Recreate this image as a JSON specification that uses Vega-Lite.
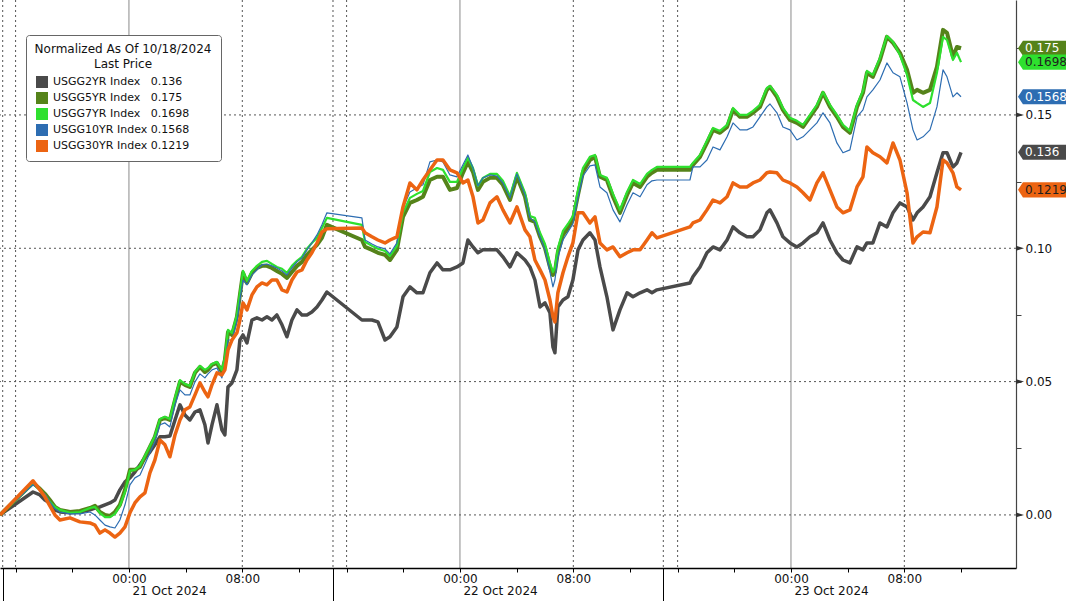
{
  "$schema": "https://vega.github.io/schema/vega-lite/v6.json",
  "width": 1016,
  "height": 568,
  "autosize": "none",
  "padding": {"left": 0, "top": 0, "right": 50, "bottom": 33},
  "background": "white",
  "config": {"font": "DejaVu Sans", "view": {"stroke": null}},
  "datasets": {
    "series": [
      {"t": -9.10, "y2": 0, "y5": 0, "y7": 0, "y10": 0, "y30": 0},
      {"t": -6.77, "y2": 0.0086, "y5": 0.012, "y7": 0.0116, "y10": 0.0113, "y30": 0.0128},
      {"t": -6.28, "y2": 0.0075, "y5": 0.0098, "y7": 0.0094, "y10": 0.0094, "y30": 0.0094},
      {"t": -5.93, "y2": 0.0056, "y5": 0.0079, "y7": 0.0075, "y10": 0.0079, "y30": 0.0068},
      {"t": -5.58, "y2": 0.0045, "y5": 0.0056, "y7": 0.0049, "y10": 0.0049, "y30": 0.0034},
      {"t": -5.22, "y2": 0.0019, "y5": 0.003, "y7": 0.003, "y10": 0.0023, "y30": 0},
      {"t": -4.87, "y2": 0.0011, "y5": 0.0019, "y7": 0.0019, "y10": 0.0011, "y30": -0.0019},
      {"t": -4.16, "y2": 0.0008, "y5": 0.0011, "y7": 0.0008, "y10": 0.0004, "y30": -0.0011},
      {"t": -3.46, "y2": 0.0011, "y5": 0.0015, "y7": 0.0011, "y10": 0.0004, "y30": -0.0026},
      {"t": -2.75, "y2": 0.0019, "y5": 0.0026, "y7": 0.0026, "y10": 0.0011, "y30": -0.003},
      {"t": -2.40, "y2": 0.0026, "y5": 0.0034, "y7": 0.003, "y10": 0, "y30": -0.0038},
      {"t": -2.05, "y2": 0.003, "y5": 0.0011, "y7": 0.0008, "y10": -0.0019, "y30": -0.0068},
      {"t": -1.69, "y2": 0.0038, "y5": 0, "y7": -0.0008, "y10": -0.0038, "y30": -0.0056},
      {"t": -1.34, "y2": 0.0045, "y5": -0.0004, "y7": -0.0008, "y10": -0.0045, "y30": -0.0068},
      {"t": -0.99, "y2": 0.0056, "y5": 0.0011, "y7": 0.0004, "y10": -0.0049, "y30": -0.0083},
      {"t": -0.64, "y2": 0.0094, "y5": 0.0038, "y7": 0.0034, "y10": -0.0019, "y30": -0.0068},
      {"t": -0.28, "y2": 0.0124, "y5": 0.0094, "y7": 0.0086, "y10": 0.0038, "y30": -0.0045},
      {"t": 0.07, "y2": 0.0139, "y5": 0.0169, "y7": 0.0165, "y10": 0.0113, "y30": 0.0008},
      {"t": 0.42, "y2": 0.0161, "y5": 0.0169, "y7": 0.0169, "y10": 0.0139, "y30": 0.0045},
      {"t": 0.78, "y2": 0.0188, "y5": 0.018, "y7": 0.0184, "y10": 0.015, "y30": 0.0068},
      {"t": 1.13, "y2": 0.0214, "y5": 0.0218, "y7": 0.0221, "y10": 0.0191, "y30": 0.0083},
      {"t": 1.48, "y2": 0.0236, "y5": 0.0255, "y7": 0.0259, "y10": 0.0233, "y30": 0.0158},
      {"t": 1.83, "y2": 0.0263, "y5": 0.0293, "y7": 0.0296, "y10": 0.0274, "y30": 0.0206},
      {"t": 2.19, "y2": 0.0293, "y5": 0.0356, "y7": 0.036, "y10": 0.0338, "y30": 0.0281},
      {"t": 2.54, "y2": 0.0293, "y5": 0.0364, "y7": 0.0368, "y10": 0.0345, "y30": 0.0263},
      {"t": 2.89, "y2": 0.0296, "y5": 0.0356, "y7": 0.036, "y10": 0.033, "y30": 0.0218},
      {"t": 3.25, "y2": 0.0356, "y5": 0.0431, "y7": 0.0439, "y10": 0.0413, "y30": 0.03},
      {"t": 3.60, "y2": 0.0413, "y5": 0.0499, "y7": 0.0506, "y10": 0.0469, "y30": 0.0356},
      {"t": 3.95, "y2": 0.0375, "y5": 0.0488, "y7": 0.0491, "y10": 0.045, "y30": 0.0394},
      {"t": 4.30, "y2": 0.0356, "y5": 0.048, "y7": 0.0484, "y10": 0.045, "y30": 0.0405},
      {"t": 4.66, "y2": 0.0386, "y5": 0.0533, "y7": 0.0536, "y10": 0.0499, "y30": 0.045},
      {"t": 5.01, "y2": 0.0394, "y5": 0.0555, "y7": 0.0559, "y10": 0.0529, "y30": 0.0495},
      {"t": 5.36, "y2": 0.0338, "y5": 0.0536, "y7": 0.0544, "y10": 0.0514, "y30": 0.0461},
      {"t": 5.58, "y2": 0.027, "y5": 0.0544, "y7": 0.0551, "y10": 0.0529, "y30": 0.0443},
      {"t": 5.86, "y2": 0.0338, "y5": 0.0563, "y7": 0.0566, "y10": 0.0544, "y30": 0.0488},
      {"t": 6.21, "y2": 0.0413, "y5": 0.057, "y7": 0.0574, "y10": 0.0551, "y30": 0.0533},
      {"t": 6.56, "y2": 0.0319, "y5": 0.0536, "y7": 0.0544, "y10": 0.0514, "y30": 0.0525},
      {"t": 6.77, "y2": 0.03, "y5": 0.0581, "y7": 0.0589, "y10": 0.0559, "y30": 0.0544},
      {"t": 6.99, "y2": 0.048, "y5": 0.0686, "y7": 0.0694, "y10": 0.0656, "y30": 0.0619},
      {"t": 7.27, "y2": 0.0495, "y5": 0.0675, "y7": 0.0683, "y10": 0.0656, "y30": 0.0656},
      {"t": 7.62, "y2": 0.0544, "y5": 0.0743, "y7": 0.075, "y10": 0.0724, "y30": 0.0683},
      {"t": 7.83, "y2": 0.0656, "y5": 0.0825, "y7": 0.0833, "y10": 0.0806, "y30": 0.0731},
      {"t": 8.05, "y2": 0.0675, "y5": 0.0908, "y7": 0.0915, "y10": 0.0881, "y30": 0.0795},
      {"t": 8.33, "y2": 0.0645, "y5": 0.087, "y7": 0.0878, "y10": 0.0863, "y30": 0.0769},
      {"t": 8.68, "y2": 0.0731, "y5": 0.0908, "y7": 0.0915, "y10": 0.09, "y30": 0.0825},
      {"t": 9.03, "y2": 0.0739, "y5": 0.0926, "y7": 0.0934, "y10": 0.0919, "y30": 0.0855},
      {"t": 9.39, "y2": 0.0731, "y5": 0.0934, "y7": 0.0949, "y10": 0.0938, "y30": 0.087},
      {"t": 9.74, "y2": 0.0743, "y5": 0.0934, "y7": 0.0953, "y10": 0.0941, "y30": 0.0863},
      {"t": 10.09, "y2": 0.0731, "y5": 0.0926, "y7": 0.0941, "y10": 0.0934, "y30": 0.0881},
      {"t": 10.44, "y2": 0.075, "y5": 0.0915, "y7": 0.093, "y10": 0.0926, "y30": 0.0881},
      {"t": 10.80, "y2": 0.0713, "y5": 0.0904, "y7": 0.0923, "y10": 0.0915, "y30": 0.0844},
      {"t": 11.15, "y2": 0.0668, "y5": 0.0889, "y7": 0.0908, "y10": 0.09, "y30": 0.0836},
      {"t": 11.50, "y2": 0.0731, "y5": 0.0911, "y7": 0.0934, "y10": 0.0926, "y30": 0.0881},
      {"t": 11.86, "y2": 0.0769, "y5": 0.0934, "y7": 0.0953, "y10": 0.0949, "y30": 0.0911},
      {"t": 12.21, "y2": 0.075, "y5": 0.0949, "y7": 0.0968, "y10": 0.0964, "y30": 0.0919},
      {"t": 12.56, "y2": 0.075, "y5": 0.0975, "y7": 0.0998, "y10": 0.0994, "y30": 0.0956},
      {"t": 12.91, "y2": 0.0761, "y5": 0.0994, "y7": 0.102, "y10": 0.102, "y30": 0.0983},
      {"t": 13.27, "y2": 0.078, "y5": 0.1013, "y7": 0.1039, "y10": 0.105, "y30": 0.102},
      {"t": 13.62, "y2": 0.0806, "y5": 0.1039, "y7": 0.1076, "y10": 0.1088, "y30": 0.1061},
      {"t": 13.97, "y2": 0.0836, "y5": 0.1088, "y7": 0.1114, "y10": 0.1133, "y30": 0.1073},
      {"t": 16.44, "y2": 0.0731, "y5": 0.1031, "y7": 0.1088, "y10": 0.1114, "y30": 0.1076},
      {"t": 16.66, "y2": 0.0731, "y5": 0.1005, "y7": 0.1024, "y10": 0.1031, "y30": 0.1058},
      {"t": 17.15, "y2": 0.0731, "y5": 0.0994, "y7": 0.1009, "y10": 0.1016, "y30": 0.1043},
      {"t": 17.57, "y2": 0.0724, "y5": 0.0983, "y7": 0.0998, "y10": 0.1005, "y30": 0.1031},
      {"t": 18.07, "y2": 0.0656, "y5": 0.0975, "y7": 0.099, "y10": 0.0998, "y30": 0.102},
      {"t": 18.42, "y2": 0.0668, "y5": 0.0956, "y7": 0.0971, "y10": 0.0979, "y30": 0.1031},
      {"t": 18.91, "y2": 0.0705, "y5": 0.0994, "y7": 0.1009, "y10": 0.102, "y30": 0.1043},
      {"t": 19.34, "y2": 0.0818, "y5": 0.1118, "y7": 0.1133, "y10": 0.1151, "y30": 0.1155},
      {"t": 19.83, "y2": 0.0855, "y5": 0.117, "y7": 0.1189, "y10": 0.1211, "y30": 0.1245},
      {"t": 20.32, "y2": 0.0833, "y5": 0.1181, "y7": 0.1204, "y10": 0.1226, "y30": 0.1219},
      {"t": 20.75, "y2": 0.0833, "y5": 0.1193, "y7": 0.1215, "y10": 0.1238, "y30": 0.1256},
      {"t": 21.24, "y2": 0.0908, "y5": 0.1256, "y7": 0.1286, "y10": 0.1324, "y30": 0.1294},
      {"t": 21.74, "y2": 0.0945, "y5": 0.1268, "y7": 0.1301, "y10": 0.1331, "y30": 0.1331},
      {"t": 22.16, "y2": 0.0919, "y5": 0.1268, "y7": 0.1294, "y10": 0.1324, "y30": 0.1331},
      {"t": 22.65, "y2": 0.0919, "y5": 0.1219, "y7": 0.1249, "y10": 0.1275, "y30": 0.1294},
      {"t": 23.15, "y2": 0.093, "y5": 0.1226, "y7": 0.1249, "y10": 0.1268, "y30": 0.1283},
      {"t": 23.57, "y2": 0.0945, "y5": 0.1283, "y7": 0.1301, "y10": 0.1313, "y30": 0.1245},
      {"t": 23.92, "y2": 0.1031, "y5": 0.1324, "y7": 0.1339, "y10": 0.135, "y30": 0.1256},
      {"t": 24.28, "y2": 0.1005, "y5": 0.1286, "y7": 0.1301, "y10": 0.1301, "y30": 0.1193},
      {"t": 24.63, "y2": 0.0983, "y5": 0.1219, "y7": 0.1234, "y10": 0.1234, "y30": 0.1095},
      {"t": 24.98, "y2": 0.0994, "y5": 0.1249, "y7": 0.1264, "y10": 0.1264, "y30": 0.1106},
      {"t": 25.48, "y2": 0.0994, "y5": 0.1264, "y7": 0.1279, "y10": 0.1275, "y30": 0.117},
      {"t": 25.97, "y2": 0.0994, "y5": 0.1264, "y7": 0.1279, "y10": 0.1271, "y30": 0.1193},
      {"t": 26.39, "y2": 0.0968, "y5": 0.1238, "y7": 0.1253, "y10": 0.1245, "y30": 0.1144},
      {"t": 26.89, "y2": 0.093, "y5": 0.1181, "y7": 0.1196, "y10": 0.1189, "y30": 0.1095},
      {"t": 27.38, "y2": 0.0983, "y5": 0.1268, "y7": 0.1283, "y10": 0.1279, "y30": 0.1155},
      {"t": 27.95, "y2": 0.0956, "y5": 0.1193, "y7": 0.1208, "y10": 0.12, "y30": 0.1069},
      {"t": 28.30, "y2": 0.093, "y5": 0.1106, "y7": 0.1121, "y10": 0.1114, "y30": 0.1043},
      {"t": 28.65, "y2": 0.0881, "y5": 0.1099, "y7": 0.1114, "y10": 0.1099, "y30": 0.0956},
      {"t": 29.01, "y2": 0.078, "y5": 0.1043, "y7": 0.1058, "y10": 0.1043, "y30": 0.0919},
      {"t": 29.36, "y2": 0.0795, "y5": 0.1001, "y7": 0.1016, "y10": 0.0994, "y30": 0.0881},
      {"t": 29.71, "y2": 0.0758, "y5": 0.093, "y7": 0.0945, "y10": 0.0911, "y30": 0.0806},
      {"t": 29.92, "y2": 0.063, "y5": 0.09, "y7": 0.0911, "y10": 0.0855, "y30": 0.0743},
      {"t": 30.06, "y2": 0.0608, "y5": 0.0911, "y7": 0.0926, "y10": 0.0881, "y30": 0.0724},
      {"t": 30.27, "y2": 0.078, "y5": 0.0986, "y7": 0.1001, "y10": 0.0964, "y30": 0.0833},
      {"t": 30.63, "y2": 0.0806, "y5": 0.105, "y7": 0.1065, "y10": 0.1031, "y30": 0.0908},
      {"t": 30.98, "y2": 0.0818, "y5": 0.1076, "y7": 0.1091, "y10": 0.1061, "y30": 0.0968},
      {"t": 31.33, "y2": 0.0881, "y5": 0.1106, "y7": 0.1121, "y10": 0.1091, "y30": 0.102},
      {"t": 31.69, "y2": 0.0994, "y5": 0.12, "y7": 0.1219, "y10": 0.1189, "y30": 0.1133},
      {"t": 32.04, "y2": 0.1031, "y5": 0.1286, "y7": 0.1301, "y10": 0.1271, "y30": 0.1133},
      {"t": 32.53, "y2": 0.1058, "y5": 0.1331, "y7": 0.1343, "y10": 0.1309, "y30": 0.1095},
      {"t": 32.89, "y2": 0.1031, "y5": 0.1343, "y7": 0.135, "y10": 0.1313, "y30": 0.1118},
      {"t": 33.24, "y2": 0.093, "y5": 0.1268, "y7": 0.1275, "y10": 0.123, "y30": 0.102},
      {"t": 33.73, "y2": 0.0818, "y5": 0.1256, "y7": 0.1264, "y10": 0.1208, "y30": 0.0994},
      {"t": 34.16, "y2": 0.0694, "y5": 0.1193, "y7": 0.1204, "y10": 0.1144, "y30": 0.1005},
      {"t": 34.65, "y2": 0.0769, "y5": 0.1133, "y7": 0.1144, "y10": 0.1099, "y30": 0.0968},
      {"t": 35.15, "y2": 0.0833, "y5": 0.12, "y7": 0.1211, "y10": 0.1163, "y30": 0.0983},
      {"t": 35.57, "y2": 0.0818, "y5": 0.1245, "y7": 0.1256, "y10": 0.1208, "y30": 0.0994},
      {"t": 36.07, "y2": 0.0833, "y5": 0.123, "y7": 0.1241, "y10": 0.1193, "y30": 0.0994},
      {"t": 36.56, "y2": 0.0844, "y5": 0.1268, "y7": 0.1279, "y10": 0.1238, "y30": 0.1031},
      {"t": 36.91, "y2": 0.0833, "y5": 0.1283, "y7": 0.1294, "y10": 0.1253, "y30": 0.1058},
      {"t": 37.26, "y2": 0.0844, "y5": 0.1294, "y7": 0.1305, "y10": 0.1256, "y30": 0.1039},
      {"t": 39.59, "y2": 0.087, "y5": 0.1294, "y7": 0.1305, "y10": 0.1256, "y30": 0.108},
      {"t": 39.80, "y2": 0.0893, "y5": 0.1313, "y7": 0.132, "y10": 0.1305, "y30": 0.1095},
      {"t": 40.30, "y2": 0.093, "y5": 0.1343, "y7": 0.135, "y10": 0.1305, "y30": 0.1106},
      {"t": 40.79, "y2": 0.0983, "y5": 0.1395, "y7": 0.1403, "y10": 0.1331, "y30": 0.1144},
      {"t": 41.22, "y2": 0.1005, "y5": 0.1444, "y7": 0.1451, "y10": 0.138, "y30": 0.1181},
      {"t": 41.71, "y2": 0.0994, "y5": 0.1433, "y7": 0.144, "y10": 0.1369, "y30": 0.117},
      {"t": 42.21, "y2": 0.1031, "y5": 0.1455, "y7": 0.1463, "y10": 0.1418, "y30": 0.1193},
      {"t": 42.63, "y2": 0.108, "y5": 0.1519, "y7": 0.1526, "y10": 0.147, "y30": 0.1245},
      {"t": 43.12, "y2": 0.1058, "y5": 0.1493, "y7": 0.15, "y10": 0.1444, "y30": 0.123},
      {"t": 43.61, "y2": 0.1043, "y5": 0.1493, "y7": 0.15, "y10": 0.1444, "y30": 0.123},
      {"t": 44.04, "y2": 0.1043, "y5": 0.1508, "y7": 0.1515, "y10": 0.1455, "y30": 0.1245},
      {"t": 44.53, "y2": 0.1069, "y5": 0.153, "y7": 0.1538, "y10": 0.1493, "y30": 0.1256},
      {"t": 45.02, "y2": 0.1133, "y5": 0.1594, "y7": 0.1601, "y10": 0.153, "y30": 0.1283},
      {"t": 45.24, "y2": 0.1144, "y5": 0.1605, "y7": 0.1609, "y10": 0.1541, "y30": 0.1286},
      {"t": 45.73, "y2": 0.1095, "y5": 0.1568, "y7": 0.1575, "y10": 0.1508, "y30": 0.1283},
      {"t": 46.15, "y2": 0.1043, "y5": 0.1519, "y7": 0.1526, "y10": 0.1455, "y30": 0.1256},
      {"t": 46.65, "y2": 0.102, "y5": 0.1481, "y7": 0.1489, "y10": 0.1444, "y30": 0.1245},
      {"t": 47.14, "y2": 0.1005, "y5": 0.147, "y7": 0.1478, "y10": 0.1406, "y30": 0.123},
      {"t": 47.57, "y2": 0.102, "y5": 0.1455, "y7": 0.1463, "y10": 0.1418, "y30": 0.1208},
      {"t": 48.06, "y2": 0.1043, "y5": 0.1493, "y7": 0.15, "y10": 0.1444, "y30": 0.1181},
      {"t": 48.55, "y2": 0.1058, "y5": 0.153, "y7": 0.1538, "y10": 0.147, "y30": 0.1245},
      {"t": 48.98, "y2": 0.1095, "y5": 0.1583, "y7": 0.1586, "y10": 0.1508, "y30": 0.1283},
      {"t": 49.47, "y2": 0.1031, "y5": 0.153, "y7": 0.1538, "y10": 0.147, "y30": 0.1219},
      {"t": 49.96, "y2": 0.0983, "y5": 0.1493, "y7": 0.15, "y10": 0.1395, "y30": 0.1155},
      {"t": 50.39, "y2": 0.0956, "y5": 0.1455, "y7": 0.1463, "y10": 0.1358, "y30": 0.1133},
      {"t": 50.88, "y2": 0.0945, "y5": 0.1433, "y7": 0.144, "y10": 0.1369, "y30": 0.1144},
      {"t": 51.38, "y2": 0.1005, "y5": 0.153, "y7": 0.1538, "y10": 0.1493, "y30": 0.123},
      {"t": 51.80, "y2": 0.0994, "y5": 0.1583, "y7": 0.159, "y10": 0.1519, "y30": 0.1268},
      {"t": 52.08, "y2": 0.102, "y5": 0.1658, "y7": 0.1665, "y10": 0.1568, "y30": 0.138},
      {"t": 52.50, "y2": 0.102, "y5": 0.1643, "y7": 0.165, "y10": 0.1594, "y30": 0.1358},
      {"t": 53.00, "y2": 0.1095, "y5": 0.1706, "y7": 0.1714, "y10": 0.1631, "y30": 0.1343},
      {"t": 53.49, "y2": 0.108, "y5": 0.1793, "y7": 0.1796, "y10": 0.1695, "y30": 0.132},
      {"t": 53.92, "y2": 0.1133, "y5": 0.177, "y7": 0.1774, "y10": 0.1658, "y30": 0.1395},
      {"t": 54.41, "y2": 0.117, "y5": 0.1733, "y7": 0.1725, "y10": 0.1643, "y30": 0.1331},
      {"t": 54.91, "y2": 0.1155, "y5": 0.1669, "y7": 0.165, "y10": 0.1545, "y30": 0.1208},
      {"t": 55.33, "y2": 0.1106, "y5": 0.1583, "y7": 0.1556, "y10": 0.1444, "y30": 0.102},
      {"t": 55.62, "y2": 0.1133, "y5": 0.1594, "y7": 0.1545, "y10": 0.1406, "y30": 0.1043},
      {"t": 56.04, "y2": 0.1155, "y5": 0.1583, "y7": 0.153, "y10": 0.1418, "y30": 0.1061},
      {"t": 56.53, "y2": 0.1193, "y5": 0.1594, "y7": 0.1545, "y10": 0.1444, "y30": 0.1058},
      {"t": 57.02, "y2": 0.1283, "y5": 0.168, "y7": 0.1658, "y10": 0.153, "y30": 0.1155},
      {"t": 57.45, "y2": 0.1358, "y5": 0.1819, "y7": 0.1793, "y10": 0.1669, "y30": 0.1331},
      {"t": 57.73, "y2": 0.1358, "y5": 0.1808, "y7": 0.1781, "y10": 0.1643, "y30": 0.132},
      {"t": 58.15, "y2": 0.1305, "y5": 0.1718, "y7": 0.1706, "y10": 0.1568, "y30": 0.1283},
      {"t": 58.43, "y2": 0.132, "y5": 0.1755, "y7": 0.1733, "y10": 0.1583, "y30": 0.123},
      {"t": 58.72, "y2": 0.136, "y5": 0.175, "y7": 0.1698, "y10": 0.1568, "y30": 0.1219}
    ],
    "midnights": [{"t": 0}, {"t": 23.36}, {"t": 46.72}],
    "dotted": [{"t": -8.91}, {"t": -8}, {"t": 8}, {"t": 14.4}, {"t": 15.36}, {"t": 31.36}, {"t": 37.71}, {"t": 38.72}, {"t": 54.72}],
    "levels": [{"g": 0}, {"g": 0.05}, {"g": 0.1}, {"g": 0.15}]
  },
  "resolve": {"axis": {"x": "independent", "y": "independent"}, "legend": {"color": "independent"}},
  "layer": [
    {
      "data": {"name": "midnights"},
      "mark": {"type": "rule", "color": "#8a8a8a", "strokeWidth": 1},
      "encoding": {
        "x": {
          "field": "t", "type": "quantitative",
          "scale": {"domain": [-9.1, 62.6], "nice": false, "zero": false},
          "axis": {
            "orient": "bottom", "values": [0, 23.36, 46.72],
            "labelExpr": "datum.value == 0 ? '21 Oct 2024' : (datum.value == 23.36 ? '22 Oct 2024' : '23 Oct 2024')",
            "ticks": false, "domain": false, "grid": false, "title": null,
            "labelAlign": "left", "labelBaseline": "top", "labelPadding": 17, "labelOffset": 3,
            "labelFont": "DejaVu Sans", "labelFontSize": 12, "labelColor": "#111111",
            "labelOverlap": false, "labelFlush": false
          }
        }
      }
    },
    {
      "data": {"name": "dotted"},
      "mark": {"type": "rule", "color": "#555555", "strokeWidth": 1, "strokeDash": [2, 3]},
      "encoding": {
        "x": {
          "field": "t", "type": "quantitative",
          "scale": {"domain": [-9.1, 62.6], "nice": false, "zero": false},
          "axis": {
            "orient": "bottom", "values": [-8.91, 14.4, 37.71],
            "labels": false, "domain": false, "grid": false, "title": null,
            "ticks": true, "tickSize": 33, "tickColor": "#000000", "tickWidth": 1
          }
        }
      }
    },
    {
      "data": {"name": "levels"},
      "mark": {"type": "rule", "color": "#555555", "strokeWidth": 1, "strokeDash": [2, 3]},
      "encoding": {
        "y": {
          "field": "g", "type": "quantitative",
          "scale": {"domain": [-0.0199, 0.1931], "nice": false, "zero": false},
          "axis": {
            "orient": "right",
            "values": [0, 0.025, 0.05, 0.075, 0.1, 0.125, 0.15, 0.175],
            "labelExpr": "(round(datum.value * 1000) % 50 == 0) ? format(datum.value, '.2f') : ''",
            "tickSize": 5, "tickColor": "#444444", "domain": true, "domainColor": "#444444", "domainWidth": 1.2,
            "labelPadding": 4, "labelFont": "DejaVu Sans", "labelFontSize": 12, "labelColor": "#111111",
            "grid": false, "title": null, "labelOverlap": false, "labelFlush": false
          }
        }
      }
    },
    {
      "data": {"name": "series"},
      "transform": [{"fold": ["y2", "y5", "y7", "y10", "y30"], "as": ["k", "v"]}],
      "mark": {"type": "line", "strokeJoin": "round"},
      "encoding": {
        "x": {
          "field": "t", "type": "quantitative",
          "scale": {"domain": [-9.1, 62.6], "nice": false, "zero": false},
          "axis": {
            "orient": "bottom",
            "values": [-8, -4, 0, 4, 8, 12, 15.36, 19.36, 23.36, 27.36, 31.36, 35.36, 38.72, 42.72, 46.72, 50.72, 54.72, 58.72],
            "labelExpr": "indexof([0, 23.36, 46.72], datum.value) >= 0 ? '00:00' : (indexof([8, 31.36, 54.72], datum.value) >= 0 ? '08:00' : '')",
            "tickSize": 4, "tickColor": "#000000", "domainColor": "#000000", "domainWidth": 1.5,
            "labelPadding": 1, "labelFont": "DejaVu Sans", "labelFontSize": 12, "labelColor": "#111111",
            "grid": false, "title": null, "labelOverlap": false, "labelFlush": false, "zindex": 1
          }
        },
        "y": {
          "field": "v", "type": "quantitative",
          "scale": {"domain": [-0.0199, 0.1931], "nice": false, "zero": false},
          "axis": null
        },
        "color": {
          "field": "k", "type": "nominal",
          "scale": {"domain": ["y2", "y5", "y7", "y10", "y30"], "range": ["#4a4a4a", "#55831a", "#2ee02e", "#2d6db2", "#ec6412"]},
          "legend": null
        },
        "strokeWidth": {
          "field": "k", "type": "nominal",
          "scale": {"type": "ordinal", "domain": ["y2", "y5", "y7", "y10", "y30"], "range": [3.5, 4, 2.2, 1.2, 3.5]},
          "legend": null
        }
      }
    },
    {
      "data": {"name": "series"},
      "transform": [
        {"fold": ["y2", "y5", "y7", "y10", "y30"], "as": ["k", "v"]},
        {"filter": "datum.t == 58.72"}
      ],
      "mark": {"type": "point", "shape": "M-1,0L-0.81,-0.29L1,-0.29L1,0.29L-0.81,0.29Z", "filled": true, "size": 2704, "opacity": 1, "strokeWidth": 0, "xOffset": 28},
      "encoding": {
        "x": {"datum": 62.6, "type": "quantitative", "scale": {"domain": [-9.1, 62.6], "nice": false, "zero": false}, "axis": null},
        "y": {"field": "v", "type": "quantitative", "scale": {"domain": [-0.0199, 0.1931], "nice": false, "zero": false}, "axis": null},
        "color": {
          "field": "k", "type": "nominal",
          "scale": {"domain": ["y2", "y5", "y7", "y10", "y30"], "range": ["#4a4a4a", "#55831a", "#2ee02e", "#2d6db2", "#ec6412"]},
          "legend": {
            "orient": "none", "legendX": 26, "legendY": 35,
            "title": ["Normalized As Of 10/18/2024", "Last Price"],
            "titleAlign": "center", "titleAnchor": "middle",
            "titleFont": "DejaVu Sans", "titleFontSize": 12, "titleFontWeight": "normal", "titleColor": "#111111",
            "titleLineHeight": 15, "titlePadding": 5,
            "labelFont": "DejaVu Sans", "labelFontSize": 11, "labelColor": "#111111", "labelOffset": 5, "labelLimit": 400,
            "labelExpr": "datum.label == 'y2' ? 'USGG2YR Index\u00a0\u00a0\u00a00.136' : datum.label == 'y5' ? 'USGG5YR Index\u00a0\u00a0\u00a00.175' : datum.label == 'y7' ? 'USGG7YR Index\u00a0\u00a0\u00a00.1698\u00a0\u00a0\u00a0\u00a0\u00a0\u00a0\u200d' : datum.label == 'y10' ? 'USGG10YR Index\u00a00.1568' : 'USGG30YR Index\u00a00.1219'",
            "symbolType": "square", "symbolSize": 144, "symbolStrokeWidth": 0,
            "rowPadding": 4, "padding": 9,
            "fillColor": "#ffffff", "strokeColor": "#666666", "cornerRadius": 3,
            "encode": {"symbols": {"update": {"shape": {"value": "square"}, "size": {"value": 144}, "opacity": {"value": 1}, "strokeWidth": {"value": 0}}}}
          }
        }
      }
    },
    {
      "data": {"name": "series"},
      "transform": [
        {"fold": ["y2", "y5", "y7", "y10", "y30"], "as": ["k", "v"]},
        {"filter": "datum.t == 58.72"}
      ],
      "mark": {"type": "text", "align": "left", "baseline": "middle", "dx": 9, "font": "DejaVu Sans", "fontSize": 12},
      "encoding": {
        "x": {"datum": 62.6, "type": "quantitative", "scale": {"domain": [-9.1, 62.6], "nice": false, "zero": false}, "axis": null},
        "y": {"field": "v", "type": "quantitative", "scale": {"domain": [-0.0199, 0.1931], "nice": false, "zero": false}, "axis": null},
        "text": {"field": "v", "type": "quantitative"},
        "color": {"condition": {"test": "datum.k == 'y7' || datum.k == 'y30'", "value": "#1f1f1f"}, "value": "#ffffff"}
      }
    },
    {
      "data": {"name": "levels"},
      "mark": {"type": "point", "shape": "M-1,-0.6L1,0L-1,0.6Z", "filled": true, "size": 64, "opacity": 1, "color": "#333333", "strokeWidth": 0, "xOffset": 4},
      "encoding": {
        "x": {"datum": 62.6, "type": "quantitative", "scale": {"domain": [-9.1, 62.6], "nice": false, "zero": false}, "axis": null},
        "y": {"field": "g", "type": "quantitative", "scale": {"domain": [-0.0199, 0.1931], "nice": false, "zero": false}, "axis": null}
      }
    }
  ]
}
